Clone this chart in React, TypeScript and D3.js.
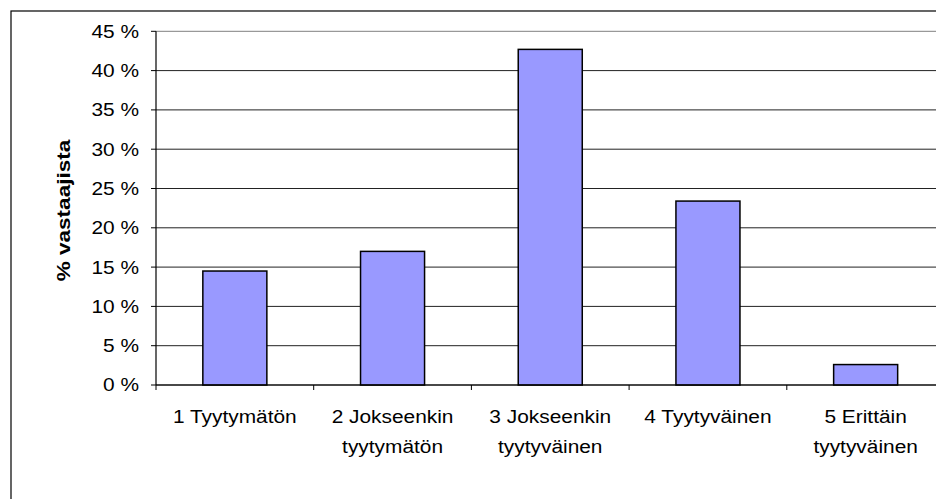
import React from "react";
import * as d3 from "d3";

const categories: string[][] = [
  ["1 Tyytymätön"],
  ["2 Jokseenkin", "tyytymätön"],
  ["3 Jokseenkin", "tyytyväinen"],
  ["4 Tyytyväinen"],
  ["5 Erittäin", "tyytyväinen"],
];
const values: number[] = [14.5, 17.0, 42.7, 23.4, 2.6];
const yTicks: number[] = [0, 5, 10, 15, 20, 25, 30, 35, 40, 45];
const yTitle = "% vastaajista";

const W = 936;
const H = 499;
const plotLeft = 156;
const plotRight = 944.5;
const plotTop = 31.3;
const plotBottom = 385;
const FONT = "'Liberation Sans', Arial, sans-serif";
const SX = 1.16;
const FS = 18;

export default function App() {
  const keys = categories.map((_, i) => String(i));
  const x = d3
    .scaleBand<string>()
    .domain(keys)
    .range([plotLeft, plotRight])
    .paddingInner(0.594)
    .paddingOuter(0.297);
  const step = x.step();
  const gap = (step - x.bandwidth()) / 2;
  const y = d3.scaleLinear().domain([0, 45]).range([plotBottom, plotTop]);

  return (
    <div style={{ position: "fixed", left: 0, top: 0, width: W, height: H, overflow: "hidden", background: "#fff" }}>
      <svg width={W} height={H} style={{ display: "block" }}>
        <rect x={0} y={0} width={W} height={H} fill="#fff" />
        <rect x={11} y={11} width={W + 40} height={H + 40} fill="none" stroke="#000" strokeWidth={1.2} />
        {yTicks.map((t) => (
          <line key={"g" + t} x1={plotLeft} x2={plotRight} y1={y(t)} y2={y(t)} stroke={t === 45 ? "#808080" : "#222"} strokeWidth={1} />
        ))}
        {values.map((v, i) => (
          <rect
            key={"b" + i}
            x={x(String(i))!}
            y={y(v)}
            width={x.bandwidth()}
            height={y(0) - y(v)}
            fill="#9999FF"
            stroke="#000"
            strokeWidth={1.5}
          />
        ))}
        <line x1={plotLeft} x2={plotLeft} y1={plotTop} y2={plotBottom} stroke="#000" strokeWidth={1.2} />
        {yTicks.map((t) => (
          <g key={"yt" + t}>
            <line x1={plotLeft - 5} x2={plotLeft} y1={y(t)} y2={y(t)} stroke="#000" strokeWidth={1} />
            <text
              transform={`translate(139, ${y(t)}) scale(${SX},1)`}
              textAnchor="end"
              dy="0.36em"
              fontFamily={FONT}
              fontSize={FS}
              fill="#000"
            >
              {`${t} %`}
            </text>
          </g>
        ))}
        <line x1={plotLeft} x2={plotRight} y1={plotBottom} y2={plotBottom} stroke="#000" strokeWidth={1.2} />
        {keys.map((k) => (
          <line key={"xt" + k} x1={x(k)! - gap} x2={x(k)! - gap} y1={plotBottom} y2={plotBottom + 5} stroke="#000" strokeWidth={1} />
        ))}
        {categories.map((lines, i) => {
          const cx = x(String(i))! + x.bandwidth() / 2;
          return lines.map((ln, j) => (
            <text
              key={"xl" + i + "-" + j}
              transform={`translate(${cx}, ${422.7 + j * 30.5}) scale(${SX},1)`}
              textAnchor="middle"
              fontFamily={FONT}
              fontSize={FS}
              fill="#000"
            >
              {ln}
            </text>
          ));
        })}
        <text
          transform={`translate(69.5, 210.5) rotate(-90) scale(1.22,1)`}
          textAnchor="middle"
          fontFamily={FONT}
          fontSize={18.5}
          fontWeight="bold"
          fill="#000"
        >
          {yTitle}
        </text>
      </svg>
    </div>
  );
}
